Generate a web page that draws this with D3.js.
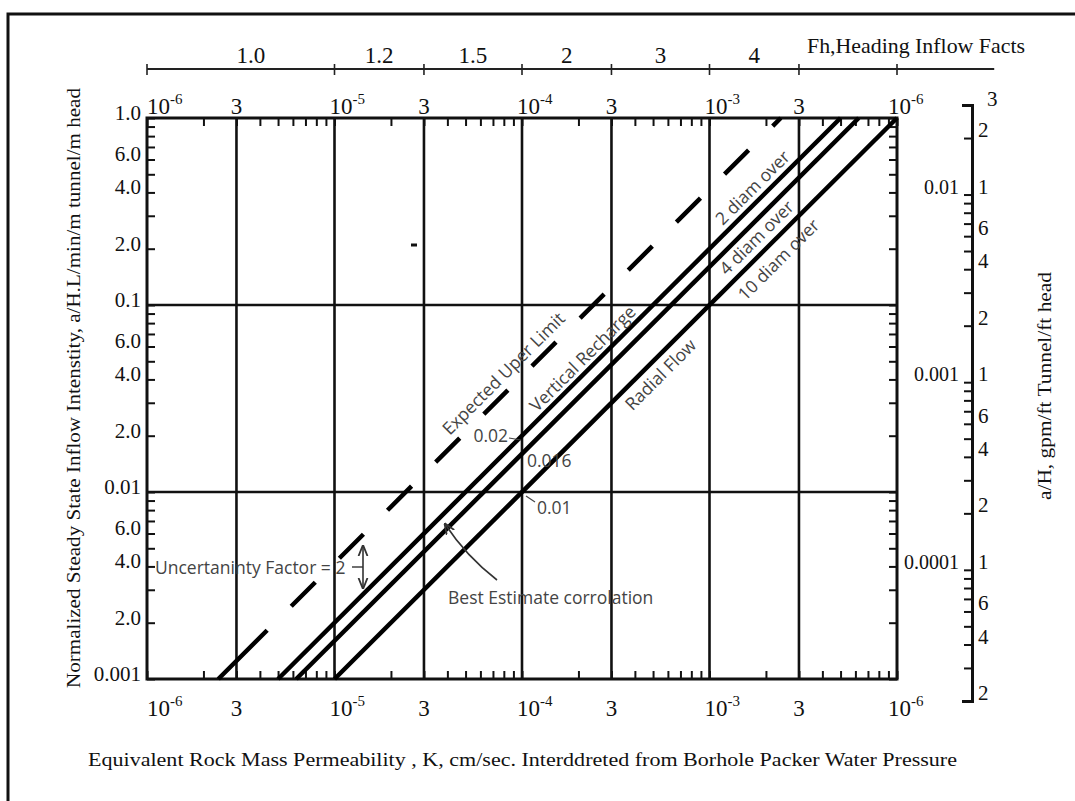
<!DOCTYPE html>
<html>
<head>
<meta charset="utf-8">
<script src="https://cdnjs.cloudflare.com/ajax/libs/d3/7.8.5/d3.min.js"></script>
<style>
  body { margin: 0; background: #fff; }
  svg { display: block; }
</style>
</head>
<body>
<script>
// ---- chart values ----
const kTicks = [1e-6, 3e-6, 1e-5, 3e-5, 1e-4, 3e-4, 1e-3, 3e-3, 1e-2]
const kTickLabels = [["10", "-6"], ["3"], ["10", "-5"], ["3"], ["10", "-4"], ["3"], ["10", "-3"], ["3"], ["10", "-6"]]
const kGrid = [3e-6, 1e-5, 3e-5, 1e-4, 3e-4, 1e-3, 3e-3]
const aGrid = [0.1, 0.01]
const aLabelValues = [1, 0.6, 0.4, 0.2, 0.1, 0.06, 0.04, 0.02, 0.01, 0.006, 0.004, 0.002, 0.001]
const aLabelTexts = ["1.0", "6.0", "4.0", "2.0", "0.1", "6.0", "4.0", "2.0", "0.01", "6.0", "4.0", "2.0", "0.001"]

const fhBreaks = [1e-6, 1e-5, 3e-5, 1e-4, 3e-4, 1e-3, 3e-3, 1e-2]
const fhLabels = ["1.0", "1.2", "1.5", "2", "3", "4"]
const fhEnd = 3.3e-2

const rightLabelValues = [3e-2, 2e-2, 1e-2, 6e-3, 4e-3, 2e-3, 1e-3, 6e-4, 4e-4, 2e-4, 1e-4, 6e-5, 4e-5, 2e-5]
const rightLabelTexts = ["3", "2", "1", "6", "4", "2", "1", "6", "4", "2", "1", "6", "4", "2"]
const rightInnerValues = [1e-2, 1e-3, 1e-4]
const rightInnerTexts = ["0.01", "0.001", "0.0001"]

// [K cm/s, a/H.L] end points of each line
const upperLimit = [[2.4e-6, 0.001], [2.4e-3, 1]]
const twoDiam = [[5e-6, 0.001], [5e-3, 1]]
const fourDiam = [[6.25e-6, 0.001], [6.25e-3, 1]]
const tenDiam = [[1e-5, 0.001], [1e-2, 1]]

// ---- layout ----
const svgWidth = 1075
const svgHeight = 801
const plot = { left: 147, right: 897, top: 118, bottom: 679 }
const serif = "'Liberation Serif', 'Times New Roman', serif"
const sans = "'Open Sans', 'Noto Sans', sans-serif"
const grey = "#444"

const svg = d3.select("body").append("svg")
  .attr("width", svgWidth)
  .attr("height", svgHeight)

const defs = svg.append("defs")
defs.append("marker")
  .attr("id", "arr")
  .attr("viewBox", "0 0 10 10")
  .attr("refX", 9).attr("refY", 5)
  .attr("markerWidth", 7).attr("markerHeight", 7)
  .attr("orient", "auto-start-reverse")
  .append("path")
  .attr("d", "M0,1L10,5L0,9")
  .attr("fill", "none")
  .attr("stroke", "#333")
  .attr("stroke-width", 1.6)

// outer frame
svg.append("path")
  .attr("d", `M8,${svgHeight} V14 H${svgWidth}`)
  .attr("fill", "none")
  .attr("stroke", "#111")
  .attr("stroke-width", 3)

const x = d3.scaleLog().domain([1e-6, 1e-2]).range([plot.left, plot.right])
const y = d3.scaleLog().domain([0.001, 1]).range([plot.bottom, plot.top])
const y2 = d3.scaleLog().domain([2e-5, 3e-2]).range([701, 105])

const chartG = svg.append("g")

// minor ticks on the four edges, pointing inward
const edgeAxis = (axis, transform) => {
  chartG.append("g")
    .attr("transform", transform)
    .call(axis.tickSize(-8).tickFormat(""))
    .call(g => g.select(".domain").remove())
    .call(g => g.selectAll(".tick line").attr("stroke", "#111").attr("stroke-width", 2))
}
edgeAxis(d3.axisBottom(x).tickValues(x.ticks()), `translate(0,${plot.bottom})`)
edgeAxis(d3.axisTop(x).tickValues(x.ticks()), `translate(0,${plot.top})`)
edgeAxis(d3.axisLeft(y).tickValues(y.ticks()), `translate(${plot.left},0)`)
edgeAxis(d3.axisRight(y).tickValues(y.ticks()), `translate(${plot.right},0)`)

// grid
chartG.selectAll(".vgrid")
  .data(kGrid)
  .enter()
  .append("line")
  .attr("x1", d => x(d)).attr("x2", d => x(d))
  .attr("y1", plot.top).attr("y2", plot.bottom)
  .attr("stroke", "#111")
  .attr("stroke-width", 2.6)

chartG.selectAll(".hgrid")
  .data(aGrid)
  .enter()
  .append("line")
  .attr("x1", plot.left).attr("x2", plot.right)
  .attr("y1", d => y(d)).attr("y2", d => y(d))
  .attr("stroke", "#111")
  .attr("stroke-width", 2.6)

chartG.append("rect")
  .attr("x", plot.left).attr("y", plot.top)
  .attr("width", plot.right - plot.left)
  .attr("height", plot.bottom - plot.top)
  .attr("fill", "none")
  .attr("stroke", "#111")
  .attr("stroke-width", 3)

// K labels, top and bottom
const kLabel = (yPos) => {
  kTicks.forEach((v, i) => {
    const lab = kTickLabels[i]
    const t = svg.append("text")
      .attr("y", yPos)
      .attr("font-family", serif)
      .attr("font-size", 23)
      .attr("fill", "#111")
    if (lab.length === 1) {
      t.attr("x", x(v)).attr("text-anchor", "middle").text(lab[0])
    } else {
      t.attr("x", x(v) + (i === 0 ? 0 : i === kTicks.length - 1 ? -9 : -5))
      t.append("tspan").text(lab[0])
      t.append("tspan").attr("dy", -10).attr("font-size", 15).text(lab[1])
    }
  })
}
kLabel(114)
kLabel(716)

// left labels
svg.selectAll(".alab")
  .data(aLabelValues)
  .enter()
  .append("text")
  .attr("x", 141)
  .attr("y", d => y(d) + 2)
  .attr("text-anchor", "end")
  .attr("font-family", serif)
  .attr("font-size", 21)
  .attr("fill", "#111")
  .text((d, i) => aLabelTexts[i])

// Fh scale on top
const fhG = svg.append("g")
fhG.append("line")
  .attr("x1", x(fhBreaks[0])).attr("x2", x(fhEnd))
  .attr("y1", 69).attr("y2", 69)
  .attr("stroke", "#222").attr("stroke-width", 2)
fhG.selectAll(".fhtick")
  .data(fhBreaks)
  .enter()
  .append("line")
  .attr("x1", d => x(d)).attr("x2", d => x(d))
  .attr("y1", 64).attr("y2", 75)
  .attr("stroke", "#222").attr("stroke-width", 1.6)
fhG.selectAll(".fhlab")
  .data(fhLabels)
  .enter()
  .append("text")
  .attr("x", (d, i) => (x(fhBreaks[i]) + x(fhBreaks[i + 1])) / 2 + (i === 0 ? 10 : 0))
  .attr("y", 63)
  .attr("text-anchor", "middle")
  .attr("font-family", serif)
  .attr("font-size", 23)
  .attr("fill", "#111")
  .text(d => d)
fhG.append("text")
  .attr("x", 807).attr("y", 53)
  .attr("font-family", serif)
  .attr("font-size", 22)
  .attr("textLength", 218)
  .attr("lengthAdjust", "spacingAndGlyphs")
  .attr("fill", "#111")
  .text("Fh,Heading Inflow Facts")

// right secondary axis
const rAxis = svg.append("g").attr("transform", "translate(972,0)")
rAxis.call(d3.axisLeft(y2).tickValues(y2.ticks()).tickSize(8).tickSizeOuter(10).tickFormat(""))
rAxis.select(".domain").attr("stroke", "#111").attr("stroke-width", 3)
rAxis.selectAll(".tick line").attr("stroke", "#111").attr("stroke-width", 2)

svg.selectAll(".rlab")
  .data(rightLabelValues)
  .enter()
  .append("text")
  .attr("x", (d, i) => i === 0 ? 987 : 978)
  .attr("y", (d, i) => y2(d) + (i === 0 ? 1 : -1))
  .attr("font-family", serif)
  .attr("font-size", 21)
  .attr("fill", "#111")
  .text((d, i) => rightLabelTexts[i])

svg.selectAll(".rinner")
  .data(rightInnerValues)
  .enter()
  .append("text")
  .attr("x", 959)
  .attr("y", d => y2(d) - 1)
  .attr("text-anchor", "end")
  .attr("font-family", serif)
  .attr("font-size", 20)
  .attr("fill", "#111")
  .text((d, i) => rightInnerTexts[i])

// correlation lines
const line = d3.line()
  .x(d => x(d[0]))
  .y(d => y(d[1]))

// long first dash, then even dashes
const dashes = [69, 34].concat(d3.range(26).map(() => 34))
chartG.append("path")
  .attr("d", line(upperLimit))
  .attr("fill", "none")
  .attr("stroke", "#000")
  .attr("stroke-width", 4.5)
  .attr("stroke-dasharray", dashes.join(","))

;[twoDiam, fourDiam, tenDiam].forEach(s => {
  chartG.append("path")
    .attr("d", line(s))
    .attr("fill", "none")
    .attr("stroke", "#000")
    .attr("stroke-width", 4.5)
})

// annotations
const note = (txt, cx, cy, rot) => {
  svg.append("text")
    .attr("transform", `translate(${cx},${cy}) rotate(${rot})`)
    .attr("text-anchor", "middle")
    .attr("dominant-baseline", "central")
    .attr("font-family", sans)
    .attr("font-size", 17.5)
    .attr("fill", grey)
    .text(txt)
}
note("Expected Uper Limit", 503, 373, -45)
note("Vertical Recharge", 582, 358, -45)
note("Radial Flow", 660, 374, -45)
note("2 diam over", 752, 187, -45)
note("4 diam over", 756, 237, -45)
note("10 diam over", 778, 259, -45)

const plain = (txt, px, py, anchor) => {
  svg.append("text")
    .attr("x", px).attr("y", py)
    .attr("text-anchor", anchor)
    .attr("dominant-baseline", "central")
    .attr("font-family", sans)
    .attr("font-size", 17.5)
    .attr("fill", grey)
    .text(txt)
}
plain("0.02", 508, 435, "end")
plain("0.016", 527, 460, "start")
plain("0.01", 537, 507, "start")
plain("Uncertaninty Factor = 2", 155, 567, "start")
plain("Best Estimate corrolation", 448, 597, "start")

svg.append("line").attr("x1", 509).attr("y1", 438).attr("x2", 521).attr("y2", 440)
  .attr("stroke", grey).attr("stroke-width", 1.2)
svg.append("line").attr("x1", 526).attr("y1", 496).attr("x2", 535).attr("y2", 502)
  .attr("stroke", grey).attr("stroke-width", 1.2)

// uncertainty arrow
svg.append("line")
  .attr("x1", 363).attr("y1", 546).attr("x2", 363).attr("y2", 588)
  .attr("stroke", "#333").attr("stroke-width", 1.6)
  .attr("marker-start", "url(#arr)")
  .attr("marker-end", "url(#arr)")
svg.append("line").attr("x1", 352).attr("y1", 567).attr("x2", 363).attr("y2", 567)
  .attr("stroke", "#333").attr("stroke-width", 1.4)

// best estimate leader
svg.append("path")
  .attr("d", "M497,580 Q466,556 445,524")
  .attr("fill", "none")
  .attr("stroke", "#333").attr("stroke-width", 1.6)
  .attr("marker-end", "url(#arr)")

// stray mark in the source figure
svg.append("line").attr("x1", 411).attr("y1", 245).attr("x2", 417).attr("y2", 245)
  .attr("stroke", "#111").attr("stroke-width", 3)

// axis titles
svg.append("text")
  .attr("transform", "translate(80,388) rotate(-90)")
  .attr("text-anchor", "middle")
  .attr("font-family", serif)
  .attr("font-size", 19)
  .attr("textLength", 600)
  .attr("lengthAdjust", "spacingAndGlyphs")
  .attr("fill", "#111")
  .text("Normalized Steady State Inflow Intenstity, a/H.L/min/m tunnel/m head")

svg.append("text")
  .attr("transform", "translate(1051,386) rotate(-90)")
  .attr("text-anchor", "middle")
  .attr("font-family", serif)
  .attr("font-size", 19)
  .attr("textLength", 228)
  .attr("lengthAdjust", "spacingAndGlyphs")
  .attr("fill", "#111")
  .text("a/H, gpm/ft Tunnel/ft head")

svg.append("text")
  .attr("x", 88).attr("y", 766)
  .attr("font-family", serif)
  .attr("font-size", 19)
  .attr("textLength", 869)
  .attr("lengthAdjust", "spacingAndGlyphs")
  .attr("fill", "#111")
  .text("Equivalent Rock Mass Permeability , K, cm/sec. Interddreted from Borhole Packer Water Pressure")
</script>
</body>
</html>
